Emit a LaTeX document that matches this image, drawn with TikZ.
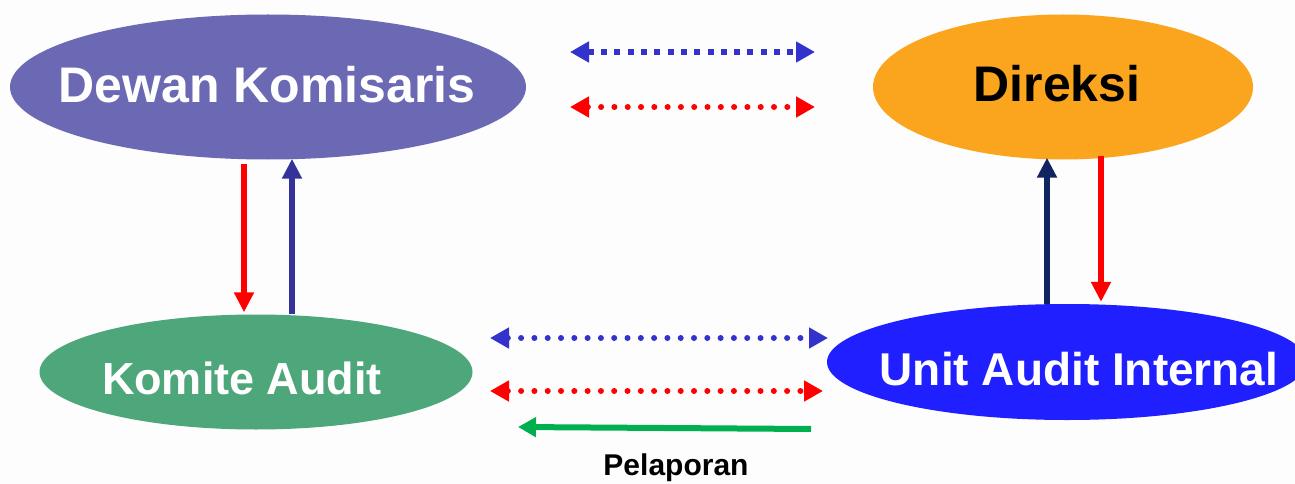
\documentclass[tikz,border=0pt]{standalone}
\usepackage{fontspec}
\setmainfont{Liberation Sans}
\usetikzlibrary{arrows.meta,shapes.geometric}
\definecolor{dkcol}{HTML}{6B69B3}
\definecolor{dircol}{HTML}{FBA41E}
\definecolor{kacol}{HTML}{4EA77A}
\definecolor{uaicol}{HTML}{1F1FFF}
\definecolor{dotblue}{HTML}{3333CC}
\definecolor{upblue}{HTML}{333399}
\definecolor{navy}{HTML}{0F2460}
\definecolor{grn}{HTML}{00B050}
\definecolor{bg}{HTML}{FDFDFD}
\tikzset{
  oval/.style={ellipse, inner sep=0pt},
  vertarrow/.style={line width=6pt, -{Triangle[length=20pt,width=19pt]}},
  dotarrow/.style={line width=6pt, {Triangle[length=19pt,width=20pt]}-{Triangle[length=19pt,width=20pt]}},
  rounddots/.style={dotarrow, line cap=round, dash pattern=on 0pt off 13.3pt},
  squaredots/.style={dotarrow, line cap=butt, dash pattern=on 6pt off 7.3pt},
}
\begin{document}
\begin{tikzpicture}[x=1pt,y=-1pt]
\fill[bg] (0,0) rectangle (1295,484);
\useasboundingbox (0,0) rectangle (1295,484);
% ovals
\node[oval, fill=dkcol, minimum width=516pt, minimum height=145pt,
      label={[text=white, font=\bfseries\fontsize{50}{60}\selectfont, xshift=-1pt, yshift=2pt]center:Dewan Komisaris}] (dk) at (268,87) {};
\node[oval, fill=dircol, minimum width=380pt, minimum height=145pt,
      label={[text=black, font=\bfseries\fontsize{50}{60}\selectfont, xshift=-6pt, yshift=3pt]center:Direksi}] (dir) at (1063,87) {};
\node[oval, fill=kacol, minimum width=433pt, minimum height=115pt,
      label={[text=white, font=\bfseries\fontsize{45}{54}\selectfont, xshift=-14pt, yshift=-6pt]center:Komite Audit}] (ka) at (256,372) {};
\node[oval, fill=uaicol, minimum width=480pt, minimum height=116pt,
      label={[text=white, font=\bfseries\fontsize{46}{55}\selectfont, xshift=12pt, yshift=-7pt]center:Unit Audit Internal}] (uai) at (1067,362) {};
\node[font=\bfseries\fontsize{30}{36}\selectfont] (pel) at (676,468) {Pelaporan};
% vertical arrows
\draw[vertarrow, red] ([xshift=-24pt,yshift=-4pt]dk.south) -- ([xshift=-12pt,yshift=2pt]ka.north);
\draw[vertarrow, upblue] ([xshift=36pt]ka.north) -- ([xshift=24pt,yshift=1pt]dk.south);
\draw[vertarrow, navy] ([xshift=-20pt]uai.north) -- ([xshift=-16pt,yshift=2pt]dir.south);
\draw[vertarrow, red] ([xshift=38pt,yshift=4pt]dir.south) -- ([xshift=34pt,yshift=2pt]uai.north);
% horizontal dotted arrows
\coordinate (t1a) at (570,52);  \coordinate (t1b) at (815,52);
\coordinate (t2a) at (570,107); \coordinate (t2b) at (815,107);
\coordinate (b1a) at (490,338); \coordinate (b1b) at (828,338);
\coordinate (b2a) at (490,391); \coordinate (b2b) at (823,391);
\coordinate (ga) at (811,429);  \coordinate (gb) at (518,427);
\draw[squaredots, dotblue] (t1a) -- (t1b);
\draw[rounddots, red] (t2a) -- (t2b);
\draw[rounddots, dotblue] (b1a) -- (b1b);
\draw[rounddots, red] (b2a) -- (b2b);
\draw[line width=6pt, grn, -{Triangle[length=18pt,width=19pt]}] (ga) -- (gb);
\end{tikzpicture}
\end{document}
